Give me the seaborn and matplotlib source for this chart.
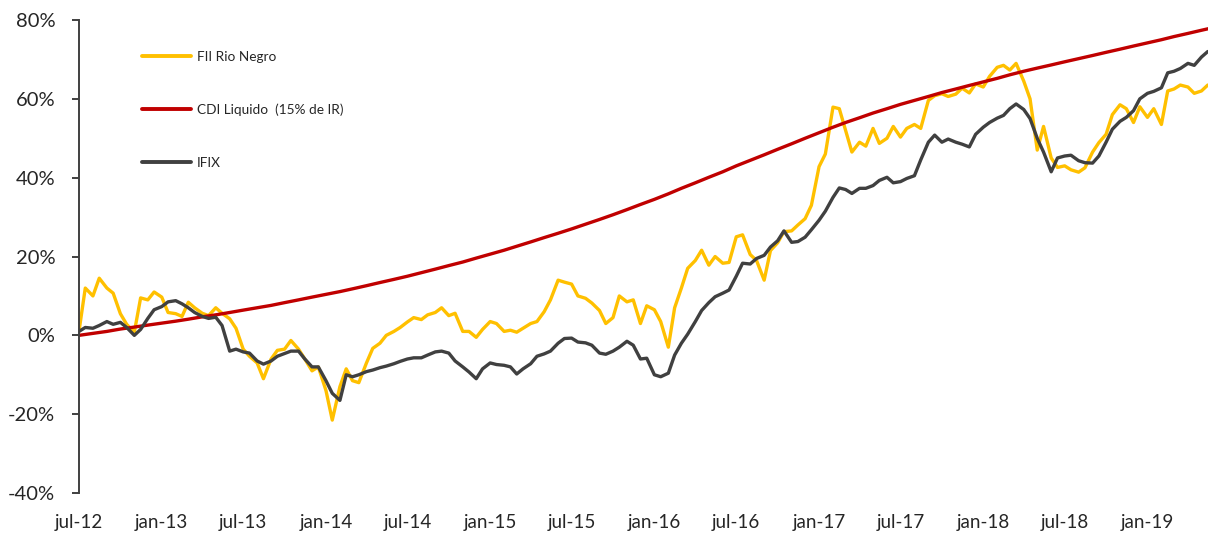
import pandas as pd
import matplotlib.pyplot as plt
import seaborn as sns

# series names and colours
series_names = ["FII Rio Negro", "CDI Liquido  (15% de IR)", "IFIX"]
series_colors = ["#FFC000", "#C00000", "#404040"]

# semi-monthly observations, jul-12 .. mai-19 (% acumulado)
rio_negro = [1.0, 12, 10, 14.5, 12, 10.7, 5.5, 2.8, 0.8, 9.5,
             9, 11, 9.7, 5.8, 5.5, 4.8, 8.4, 7, 5.6, 5,
             7, 5.6, 4.2, 1.8, -3.5, -5.3, -7, -11, -6, -3.8,
             -3.5, -1.3, -3.5, -6, -9, -8, -14, -21.5, -13, -8.5,
             -11.5, -12, -7, -3.3, -2, 0, 1, 2, 3.4, 4.5,
             4, 5.2, 5.8, 7, 5, 5.6, 1, 1, -0.5, 1.5,
             3.5, 3, 1, 1.3, 0.8, 1.8, 3, 3.5, 6, 9,
             14, 13.5, 13, 10, 9.4, 8.2, 6.3, 3, 4.5, 10,
             8.5, 9, 3, 7.5, 6.5, 3.5, -3, 7, 12, 17,
             19, 21.6, 17.8, 20, 18.3, 18.5, 25, 25.5, 20.5, 19,
             14, 21.5, 23.5, 26.3, 26.5, 28, 29.6, 33, 42.8, 46,
             57.9, 57.5, 52, 46.5, 49, 48, 52.5, 48.7, 50, 53,
             50.3, 52.5, 53.5, 52.5, 59.6, 60.8, 61.3, 60.6, 61.2, 62.7,
             61.5, 63.8, 63, 65.7, 68, 68.5, 67.3, 69, 64.5, 60,
             47, 53, 45, 42.6, 43, 42, 41.4, 42.5, 46.5, 48.9,
             51, 56, 58.5, 57.5, 54, 58, 55.3, 57.5, 53.5, 62,
             62.5, 63.5, 63, 61.4, 62, 63.5]

ifix = [1.0, 2, 1.8, 2.5, 3.5, 2.8, 3.3, 2, 0, 1.5,
        4.3, 6.5, 7.3, 8.5, 8.8, 8, 7, 5.8, 4.8, 4.3,
        4.6, 2.5, -4, -3.5, -4.2, -4.5, -6.5, -7.3, -6.5, -5.3,
        -4.6, -4, -4, -6, -8, -8, -11.5, -14.7, -16.5, -10,
        -10.5, -10, -9.2, -8.8, -8.2, -7.8, -7.2, -6.6, -6, -5.7,
        -5.7, -5, -4.2, -4, -4.5, -6.5, -8, -9.3, -11, -8.5,
        -7, -7.4, -7.6, -8, -9.8, -8.5, -7.2, -5.3, -4.7, -4,
        -2, -0.8, -0.7, -1.7, -1.9, -2.5, -4.5, -4.8, -4, -3,
        -1.5, -2.5, -6, -5.8, -10, -10.5, -9.6, -5, -2, 0.3,
        3.5, 6.3, 8.3, 9.8, 10.7, 11.5, 15, 18.3, 18.1, 19.5,
        20.3, 22.4, 24, 26.5, 23.6, 23.8, 24.9, 26.8, 29.2, 31.5,
        35, 37.4, 37, 36, 37.3, 37.3, 38, 39.3, 40.1, 38.7,
        39, 39.8, 40.5, 44.5, 49, 50.8, 49, 49.8, 49, 48.5,
        47.8, 51, 52.8, 54, 55.1, 55.8, 57.5, 58.7, 57.3, 55,
        50, 46.5, 41.5, 45, 45.5, 45.7, 44.3, 43.8, 43.7, 45.5,
        49, 52.3, 54.3, 55.3, 57, 60, 61.4, 61.9, 62.8, 66.6,
        67, 67.7, 69, 68.5, 70.6, 72]

# monthly observations, jul-12 .. jun-19
cdi = [0.0, 0.5, 1.0, 1.6, 2.1, 2.6, 3.1, 3.6, 4.1, 4.7,
       5.2, 5.8, 6.4, 7.0, 7.6, 8.3, 9.0, 9.7, 10.4, 11.1,
       11.8, 12.6, 13.4, 14.2, 15.0, 15.9, 16.8, 17.7, 18.6, 19.6,
       20.6, 21.6, 22.6, 23.7, 24.8, 25.9, 27.0, 28.2, 29.4, 30.6,
       31.9, 33.2, 34.5, 35.9, 37.3, 38.7, 40.1, 41.5, 43.0, 44.4,
       45.8, 47.2, 48.6, 50.0, 51.4, 52.8, 54.0, 55.2, 56.4, 57.5,
       58.6, 59.6, 60.6, 61.6, 62.5, 63.4, 64.3, 65.2, 66.1, 67.0,
       67.8, 68.6, 69.4, 70.2, 71.0, 71.8, 72.6, 73.4, 74.2, 75.0,
       75.8, 76.6, 77.4, 78.2]

x_tick_labels = ["jul-12", "jan-13", "jul-13", "jan-14", "jul-14", "jan-15", "jul-15",
                 "jan-16", "jul-16", "jan-17", "jul-17", "jan-18", "jul-18", "jan-19"]
y_ticks = [-40, -20, 0, 20, 40, 60, 80]
y_tick_labels = ["-40%", "-20%", "0%", "20%", "40%", "60%", "80%"]

semi_dates = pd.date_range("2012-07-01", periods=len(rio_negro), freq="SMS")
month_dates = pd.date_range("2012-07-01", periods=len(cdi), freq="MS")

df = pd.concat([
    pd.DataFrame({"data": semi_dates, "valor": rio_negro, "serie": series_names[0]}),
    pd.DataFrame({"data": month_dates, "valor": cdi, "serie": series_names[1]}),
    pd.DataFrame({"data": semi_dates, "valor": ifix, "serie": series_names[2]}),
])

sns.set_style("white")
plt.rcParams["font.family"] = ["Lato", "DejaVu Sans"]

fig = plt.figure(figsize=(12.17, 5.38), dpi=100)
ax = fig.add_axes([0.0649, 0.0836, 0.9275, 0.8792])

sns.lineplot(data=df, x="data", y="valor", hue="serie", hue_order=series_names,
             palette=dict(zip(series_names, series_colors)), linewidth=2.4,
             estimator=None, ax=ax)

ax.set_xlim(semi_dates[0], semi_dates[-1])
ax.set_ylim(-40, 80)
ax.set_yticks(y_ticks)
ax.set_yticklabels(y_tick_labels)
tick_pos = pd.date_range("2012-07-01", periods=len(x_tick_labels), freq="6MS")
ax.set_xticks(tick_pos)
ax.set_xticklabels(x_tick_labels)
ax.set_xlabel("")
ax.set_ylabel("")

for s in ["top", "right", "bottom"]:
    ax.spines[s].set_visible(False)
ax.spines["left"].set_color("#404040")
ax.spines["left"].set_linewidth(1.4)
ax.tick_params(axis="y", length=5, width=1.4, color="#404040", pad=12,
               labelsize=14.5, labelcolor="#262626", left=True)
ax.tick_params(axis="x", length=0, pad=15, labelsize=13.5, labelcolor="#262626")

leg = ax.legend(loc="upper left", bbox_to_anchor=(0.0558, 0.935), frameon=False,
                fontsize=9.8, labelspacing=3.0, handlelength=3.6, handletextpad=0.45,
                borderpad=0, borderaxespad=0)
for line in leg.get_lines():
    line.set_linewidth(2.8)

fig.savefig("out.png", dpi=100)
